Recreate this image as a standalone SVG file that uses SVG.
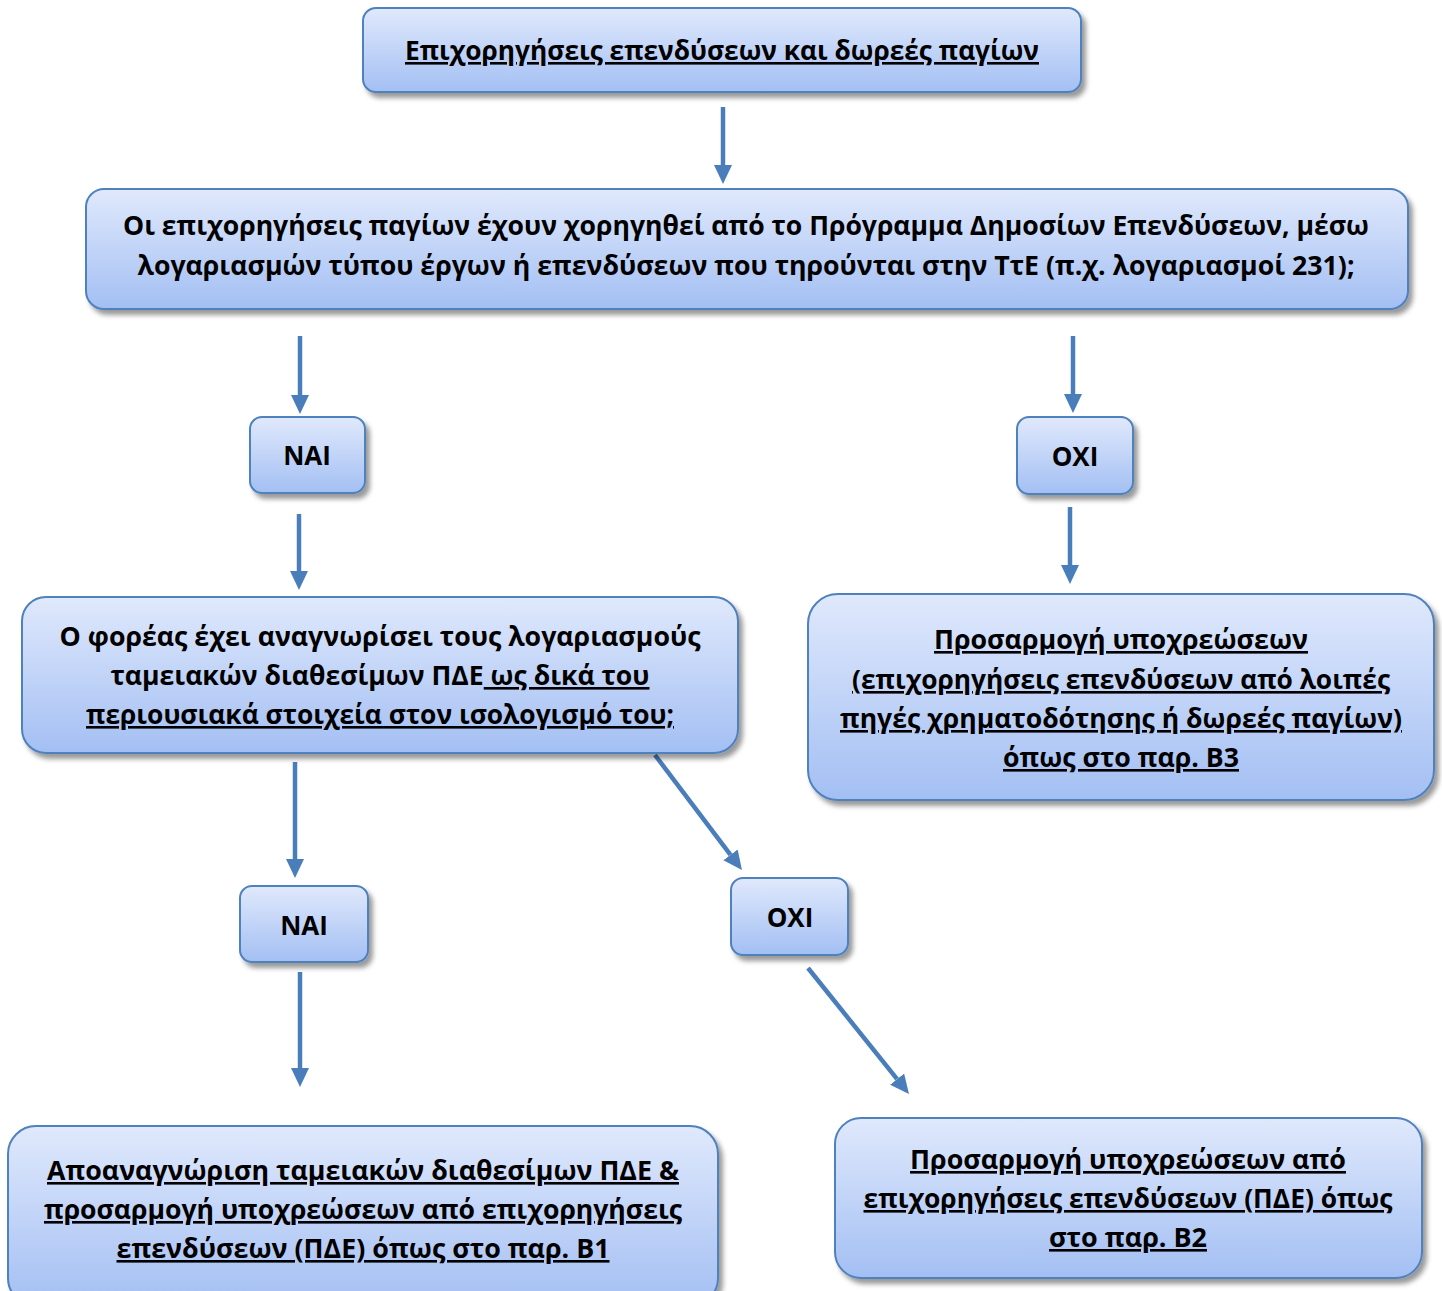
<svg xmlns="http://www.w3.org/2000/svg" width="1442" height="1291" viewBox="0 0 1442 1291">
<defs>
<linearGradient id="g" x1="0" y1="0" x2="0" y2="1">
<stop offset="0" stop-color="#e0e9fc"/>
<stop offset="1" stop-color="#a3bff3"/>
</linearGradient>
<filter id="sh" x="-10%" y="-10%" width="125%" height="135%">
<feDropShadow dx="4" dy="5" stdDeviation="2.5" flood-color="#000" flood-opacity="0.4"/>
</filter>
<marker id="ah" viewBox="0 0 19 18" refX="0" refY="9" markerWidth="19" markerHeight="18" markerUnits="userSpaceOnUse" orient="auto">
<path d="M0,0 L19,9 L0,18 z" fill="#4a7ebb"/>
</marker>
<style>
.box{fill:url(#g);stroke:#4f81bd;stroke-width:2;filter:url(#sh)}
.t{font-family:"Open Sans","Noto Sans","DejaVu Sans",sans-serif;font-weight:bold;font-size:26px;fill:#000;text-anchor:middle}
.u{text-decoration:underline;text-decoration-skip-ink:none}
.c{stroke:#4a7ebb;stroke-width:4.5;fill:none;marker-end:url(#ah)}
</style>
</defs>
<g id="connectors">
<line class="c" x1="723" y1="107" x2="723" y2="165"/>
<line class="c" x1="300" y1="336" x2="300" y2="395"/>
<line class="c" x1="1073" y1="336" x2="1073" y2="394"/>
<line class="c" x1="299" y1="514" x2="299" y2="571"/>
<line class="c" x1="1070" y1="507" x2="1070" y2="565"/>
<line class="c" x1="295" y1="762" x2="295" y2="859"/>
<line class="c" x1="655" y1="755" x2="730.5" y2="854.9"/>
<line class="c" x1="300" y1="972" x2="300" y2="1068"/>
<line class="c" x1="808" y1="968" x2="897.1" y2="1079.2"/>
</g>
<g id="n-top">
<rect class="box" x="363" y="8" width="718" height="84" rx="13"/>
<text class="t u" x="722" y="60" textLength="634" lengthAdjust="spacingAndGlyphs">Επιχορηγήσεις επενδύσεων και δωρεές παγίων</text>
</g>
<g id="n-question1">
<rect class="box" x="86" y="189" width="1322" height="120" rx="18"/>
<text class="t" x="746" y="235" textLength="1246" lengthAdjust="spacingAndGlyphs">Οι επιχορηγήσεις παγίων έχουν χορηγηθεί από το Πρόγραμμα Δημοσίων Επενδύσεων, μέσω</text>
<text class="t" x="746" y="275" textLength="1217" lengthAdjust="spacingAndGlyphs">λογαριασμών τύπου έργων ή επενδύσεων που τηρούνται στην ΤτΕ (π.χ. λογαριασμοί 231);</text>
</g>
<g id="n-nai1">
<rect class="box" x="250" y="417" width="115" height="76" rx="12"/>
<text class="t" x="307" y="465">NAI</text>
</g>
<g id="n-oxi1">
<rect class="box" x="1017" y="417" width="116" height="77" rx="12"/>
<text class="t" x="1075" y="466">OXI</text>
</g>
<g id="n-question2">
<rect class="box" x="22" y="597" width="716" height="156" rx="24"/>
<text class="t" x="380" y="646" textLength="641" lengthAdjust="spacingAndGlyphs">Ο φορέας έχει αναγνωρίσει τους λογαριασμούς</text>
<text class="t" x="380" y="685" textLength="539" lengthAdjust="spacingAndGlyphs">ταμειακών διαθεσίμων ΠΔΕ<tspan class="u"> ως δικά του</tspan></text>
<text class="t u" x="380" y="724" textLength="588" lengthAdjust="spacingAndGlyphs">περιουσιακά στοιχεία στον ισολογισμό του;</text>
</g>
<g id="n-b3">
<rect class="box" x="808" y="594" width="626" height="206" rx="30"/>
<text class="t u" x="1121" y="649" textLength="374" lengthAdjust="spacingAndGlyphs">Προσαρμογή υποχρεώσεων</text>
<text class="t u" x="1121" y="689" textLength="538" lengthAdjust="spacingAndGlyphs">(επιχορηγήσεις επενδύσεων από λοιπές</text>
<text class="t u" x="1121" y="728" textLength="562" lengthAdjust="spacingAndGlyphs">πηγές χρηματοδότησης ή δωρεές παγίων)</text>
<text class="t u" x="1121" y="767" textLength="236" lengthAdjust="spacingAndGlyphs">όπως στο παρ. Β3</text>
</g>
<g id="n-nai2">
<rect class="box" x="240" y="886" width="128" height="76" rx="12"/>
<text class="t" x="304" y="935">NAI</text>
</g>
<g id="n-oxi2">
<rect class="box" x="731" y="878" width="117" height="77" rx="12"/>
<text class="t" x="790" y="927">OXI</text>
</g>
<g id="n-b1">
<rect class="box" x="8" y="1126" width="710" height="180" rx="28"/>
<text class="t u" x="363" y="1180" textLength="632" lengthAdjust="spacingAndGlyphs">Αποαναγνώριση ταμειακών διαθεσίμων ΠΔΕ &amp;</text>
<text class="t u" x="363" y="1219" textLength="638" lengthAdjust="spacingAndGlyphs">προσαρμογή υποχρεώσεων από επιχορηγήσεις</text>
<text class="t u" x="363" y="1258" textLength="493" lengthAdjust="spacingAndGlyphs">επενδύσεων (ΠΔΕ) όπως στο παρ. Β1</text>
</g>
<g id="n-b2">
<rect class="box" x="835" y="1118" width="587" height="160" rx="26"/>
<text class="t u" x="1128" y="1169" textLength="436" lengthAdjust="spacingAndGlyphs">Προσαρμογή υποχρεώσεων από</text>
<text class="t u" x="1128" y="1208" textLength="529" lengthAdjust="spacingAndGlyphs">επιχορηγήσεις επενδύσεων (ΠΔΕ) όπως</text>
<text class="t u" x="1128" y="1247" textLength="158" lengthAdjust="spacingAndGlyphs">στο παρ. Β2</text>
</g>
</svg>
